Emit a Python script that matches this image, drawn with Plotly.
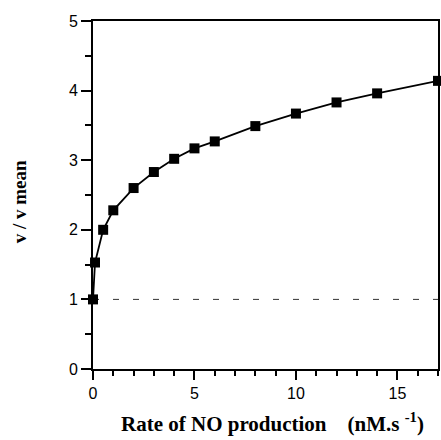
import plotly.graph_objects as go

no_rate = [0, 0.1, 0.5, 1, 2, 3, 4, 5, 6, 8, 10, 12, 14, 17]
v_ratio = [1.0, 1.53, 2.0, 2.28, 2.60, 2.83, 3.02, 3.17, 3.27, 3.49, 3.67, 3.83, 3.96, 4.14]
baseline_x = [0, 17]
baseline_y = [1, 1]

fig = go.Figure()
fig.add_trace(go.Scatter(
    x=baseline_x, y=baseline_y, mode="lines",
    line=dict(color="#333333", width=1, dash="6px,14px"),
    showlegend=False, hoverinfo="skip"))
fig.add_trace(go.Scatter(
    x=no_rate, y=v_ratio, mode="lines+markers",
    line=dict(color="black", width=1.8),
    marker=dict(symbol="square", size=10, color="black"),
    showlegend=False, cliponaxis=False))

tickfont = dict(family="Liberation Sans, Arial, sans-serif", size=16, color="black")
serif = "Liberation Serif, Times New Roman, serif"

fig.update_layout(
    width=441, height=440,
    margin=dict(l=93, r=1, t=21, b=71, pad=0),
    paper_bgcolor="white", plot_bgcolor="white",
    xaxis=dict(
        range=[0, 17], tickmode="array", tickvals=[0, 5, 10, 15],
        ticks="outside", ticklen=9, tickwidth=1.5, tickcolor="black",
        minor=dict(dtick=1, tick0=0, ticks="outside", ticklen=5, tickwidth=1.5, tickcolor="black", showgrid=False),
        showline=True, linecolor="black", linewidth=2, mirror=True,
        showgrid=False, zeroline=False, tickfont=tickfont,
    ),
    yaxis=dict(
        range=[0, 5], tickmode="array", tickvals=[0, 1, 2, 3, 4, 5],
        ticks="outside", ticklen=10, tickwidth=1.5, tickcolor="black",
        minor=dict(dtick=0.5, tick0=0, ticks="outside", ticklen=6, tickwidth=1.5, tickcolor="black", showgrid=False),
        showline=True, linecolor="black", linewidth=2, mirror=True,
        showgrid=False, zeroline=False, tickfont=tickfont,
    ),
    annotations=[
        dict(text="<b>Rate of NO production&nbsp;&nbsp;&nbsp;&nbsp;(nM.s <sup>-1</sup>)</b>",
             xref="paper", yref="paper", x=0.519, y=-0.155, showarrow=False,
             xanchor="center", yanchor="middle",
             font=dict(family=serif, size=21, color="black")),
        dict(text="<b>v / v mean</b>",
             xref="paper", yref="paper", x=-0.2104, y=0.48, showarrow=False,
             xanchor="center", yanchor="middle", textangle=-90,
             font=dict(family=serif, size=19, color="black")),
    ],
)

fig.write_html("out.html",
               config={"displayModeBar": False},
               post_script="document.body.style.margin='0';document.body.style.overflow='hidden';")
